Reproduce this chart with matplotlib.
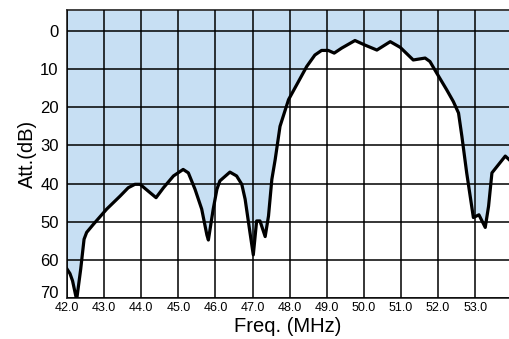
import matplotlib.pyplot as plt

# attenuation curve (freq in MHz, attenuation in dB)
freq = [42.0, 42.08, 42.15, 42.26, 42.37, 42.46, 42.53, 42.71, 43.07, 43.43,
        43.65, 43.83, 43.97, 44.19, 44.4, 44.6, 44.87, 45.13, 45.27, 45.45,
        45.63, 45.77, 45.81, 45.94, 46.04, 46.12, 46.39, 46.57, 46.71, 46.8,
        46.93, 47.02, 47.11, 47.2, 47.34, 47.43, 47.52, 47.61, 47.74, 47.97,
        48.19, 48.46, 48.68, 48.86, 49.04, 49.2, 49.4, 49.76, 50.03, 50.35,
        50.71, 50.98, 51.33, 51.65, 51.78, 51.96, 52.23, 52.41, 52.55, 52.64,
        52.77, 52.95, 53.1, 53.27, 53.36, 53.45, 53.63, 53.81, 53.91]
att = [62.4, 63.6, 65.5, 70.5, 62.4, 54.6, 52.8, 50.7, 46.7, 43.3,
       41.1, 40.2, 40.2, 42.0, 43.7, 41.1, 38.0, 36.3, 37.2, 41.5,
       46.7, 53.5, 54.8, 46.7, 41.5, 39.3, 37.0, 38.0, 40.2, 44.1,
       52.8, 58.7, 49.8, 49.8, 53.9, 48.5, 38.9, 33.7, 25.0, 18.0,
       14.1, 9.3, 6.3, 5.1, 5.1, 5.8, 4.5, 2.5, 3.7, 5.0,
       2.8, 4.3, 7.6, 7.1, 8.0, 11.0, 15.4, 18.5, 21.5, 27.6,
       37.2, 48.9, 48.2, 51.5, 45.9, 37.2, 35.0, 32.8, 33.7]

xticks = [42.0, 43.0, 44.0, 45.0, 46.0, 47.0, 48.0, 49.0, 50.0, 51.0, 52.0, 53.0]
yticks = [0, 10, 20, 30, 40, 50, 60, 70]

top = -5.5

plt.rcParams["font.family"] = ["Liberation Sans", "DejaVu Sans"]

fig = plt.figure(figsize=(5.09, 3.39), dpi=100)
ax = fig.add_axes([0.1316, 0.121, 0.8684, 0.8495])

ax.fill_between(freq, top, att, color="#c7dff3", lw=0, zorder=1)
ax.plot(freq, att, color="black", lw=2.3, zorder=3, solid_joinstyle="round")

ax.set_xlim(42.0, 53.91)
ax.set_ylim(70, top)

ax.set_xticks(xticks)
ax.set_xticklabels([f"{t:.1f}" for t in xticks], fontsize=9)
ax.set_yticks(yticks)
ylabels = ax.set_yticklabels([str(t) for t in yticks], fontsize=12)
ylabels[-1].set_va("baseline")
ax.tick_params(axis="y", length=0, pad=6)
ax.tick_params(axis="x", length=0, pad=3)

ax.grid(True, color="black", lw=1.1, zorder=2)
ax.set_axisbelow(False)

ax.spines["right"].set_visible(False)
for s in ["top", "left", "bottom"]:
    ax.spines[s].set_color("#333333")
    ax.spines[s].set_linewidth(1.3)

ax.set_xlabel("Freq. (MHz)", fontsize=14.5, labelpad=2)
ax.set_ylabel("Att.(dB)", fontsize=14.5, labelpad=2)

fig.savefig("out.png", dpi=100)
